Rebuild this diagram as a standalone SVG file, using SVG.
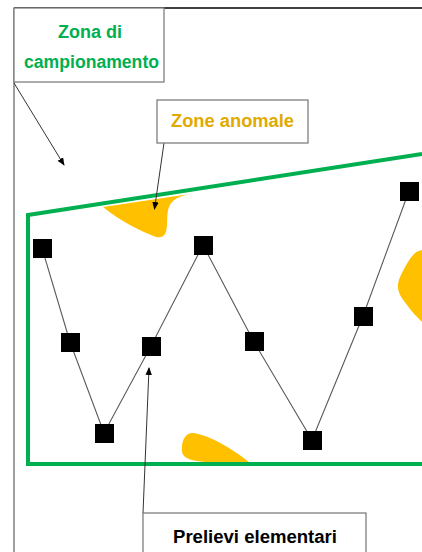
<svg xmlns="http://www.w3.org/2000/svg" width="422" height="552" viewBox="0 0 422 552">
<style>
.box{fill:#fff;stroke:#7f7f7f;stroke-width:1.3}
.lbl{font-family:"Liberation Sans",Arial,sans-serif;font-weight:bold;font-size:18px;text-anchor:middle}
.blob{fill:#FFC000}
.sq{fill:#000}
.conn{stroke:#595959;stroke-width:1.1;fill:none}
.arr{stroke:#333;stroke-width:1;fill:none}
</style>
<defs>
<marker id="ah" markerWidth="8" markerHeight="8" refX="7" refY="4" orient="auto" markerUnits="userSpaceOnUse">
<path d="M0,0.8 L8,4 L0,7.2 Z" fill="#000"/>
</marker>
</defs>
<rect width="422" height="552" fill="#fff"/>
<g id="frame">
<line x1="14" y1="8" x2="422" y2="8" stroke="#000" stroke-width="1.5"/>
<line x1="14" y1="8" x2="14" y2="552" stroke="#7f7f7f" stroke-width="1.5"/>
</g>
<g id="anomalies">
<path class="blob" d="M103 207 L190 194 C180 196 172 199 169 207 C166 215 168 225 166 232 C164 237 160 238 156 237 C140 231 120 221 103 207 Z"/>
<path class="blob" d="M422 250 C414 251 409 259 401 275 C396 285 397 292 404 301 C411 311 417 317 422 322 Z"/>
<path class="blob" d="M250 463 C232 448 210 436 194 433 C184 432 181 443 182 452 C184 461 196 463 250 463 Z"/>
</g>
<g id="sampling-zone">
<path d="M422 154 L28 215 L28 464 L422 464" fill="none" stroke="#00B050" stroke-width="4"/>
</g>
<g id="connectors">
<polyline class="conn" points="42,248 70,342 104,433 151,346 203,245 254,342 312,440 363,316 409,191"/>
<line class="arr" x1="14" y1="83" x2="64" y2="165" marker-end="url(#ah)"/>
<line class="arr" x1="164" y1="143" x2="154.5" y2="209" marker-end="url(#ah)"/>
<line class="arr" x1="143" y1="513" x2="149" y2="368" marker-end="url(#ah)"/>
</g>
<g id="samples">
<rect class="sq" x="33" y="239" width="19" height="19"/>
<rect class="sq" x="61" y="333" width="19" height="19"/>
<rect class="sq" x="95" y="424" width="19" height="19"/>
<rect class="sq" x="142" y="337" width="19" height="19"/>
<rect class="sq" x="194" y="236" width="19" height="19"/>
<rect class="sq" x="245" y="332" width="19" height="19"/>
<rect class="sq" x="303" y="431" width="19" height="19"/>
<rect class="sq" x="354" y="307" width="19" height="19"/>
<rect class="sq" x="400" y="182" width="19" height="19"/>
</g>
<g id="label-zona">
<rect class="box" x="14" y="8" width="150" height="74"/>
<text class="lbl" x="90" y="38" fill="#00B050">Zona di</text>
<text class="lbl" x="91.5" y="68" fill="#00B050" textLength="135" lengthAdjust="spacingAndGlyphs">campionamento</text>
</g>
<g id="label-anomale">
<rect class="box" x="157" y="100" width="151" height="43"/>
<text class="lbl" x="232.5" y="127" fill="#E2AA00" textLength="123" lengthAdjust="spacingAndGlyphs">Zone anomale</text>
</g>
<g id="label-prelievi">
<rect class="box" x="143" y="513" width="223" height="50"/>
<text class="lbl" x="255" y="543" fill="#000" textLength="164" lengthAdjust="spacingAndGlyphs">Prelievi elementari</text>
</g>
</svg>
